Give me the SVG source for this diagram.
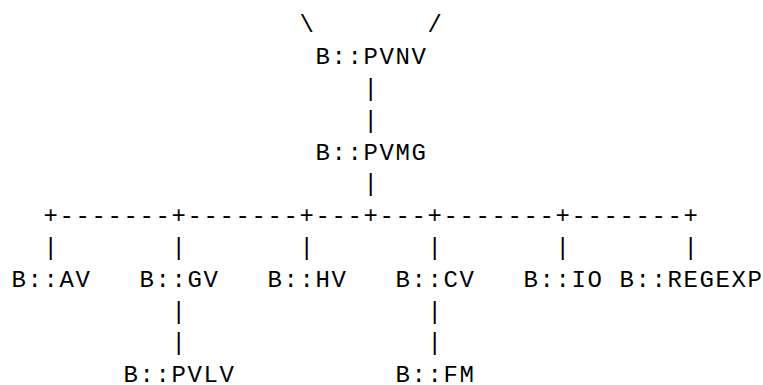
<svg xmlns="http://www.w3.org/2000/svg" width="763" height="385" viewBox="0 0 763 385">
<style>
text{font-family:"Liberation Mono","DejaVu Sans Mono",monospace;font-size:24px;letter-spacing:1.6px;fill:#000;white-space:pre}
</style>
<rect width="763" height="385" fill="#fff"/>
<g id="connectors">
<text x="299.5" y="32.3">\</text>
<text x="427.5" y="32.3">/</text>
<text x="363.5" y="95.9">|</text>
<text x="363.5" y="127.7">|</text>
<text x="363.5" y="191.3">|</text>
<text x="43.5" y="223.1" xml:space="preserve">+-------+-------+---+---+-------+-------+</text>
<text x="43.5" y="254.9">|</text>
<text x="171.5" y="254.9">|</text>
<text x="299.5" y="254.9">|</text>
<text x="427.5" y="254.9">|</text>
<text x="555.5" y="254.9">|</text>
<text x="683.5" y="254.9">|</text>
<text x="171.5" y="318.5">|</text>
<text x="171.5" y="350.3">|</text>
<text x="427.5" y="318.5">|</text>
<text x="427.5" y="350.3">|</text>
</g>
<g id="pvnv"><text x="315.5" y="64.1">B::PVNV</text></g>
<g id="pvmg"><text x="315.5" y="159.5">B::PVMG</text></g>
<g id="av"><text x="11.5" y="286.7">B::AV</text></g>
<g id="gv"><text x="139.5" y="286.7">B::GV</text></g>
<g id="hv"><text x="267.5" y="286.7">B::HV</text></g>
<g id="cv"><text x="395.5" y="286.7">B::CV</text></g>
<g id="io"><text x="523.5" y="286.7">B::IO</text></g>
<g id="regexp"><text x="619.5" y="286.7">B::REGEXP</text></g>
<g id="pvlv"><text x="123.5" y="382.1">B::PVLV</text></g>
<g id="fm"><text x="395.5" y="382.1">B::FM</text></g>
</svg>
